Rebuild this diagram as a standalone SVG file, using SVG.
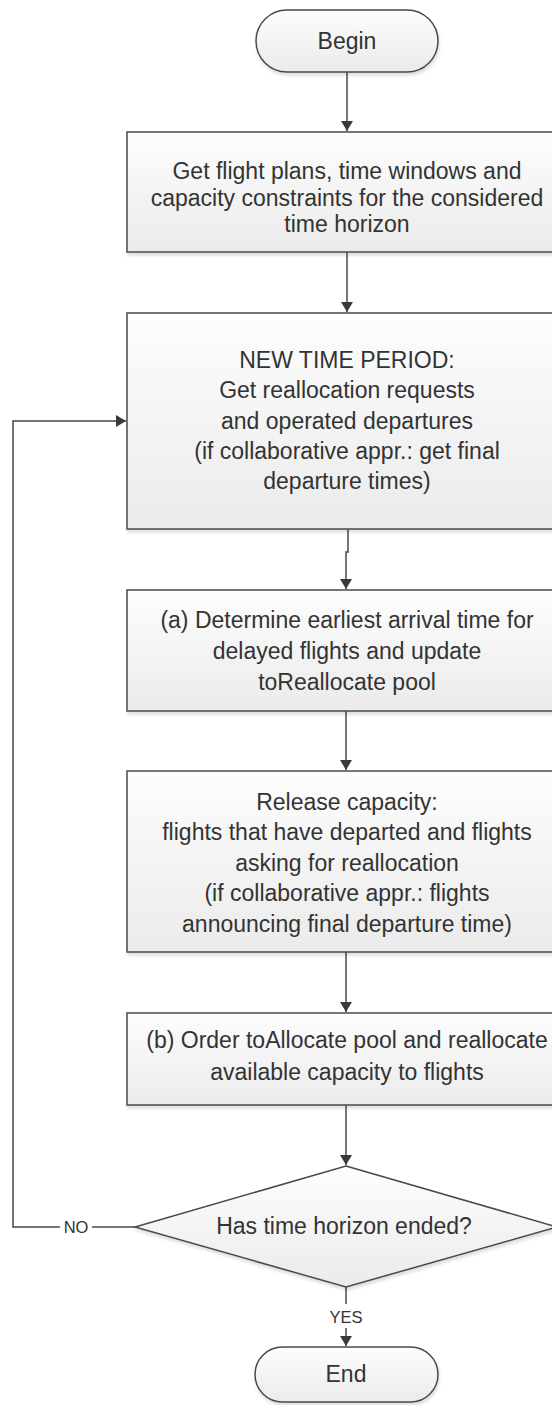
<svg xmlns="http://www.w3.org/2000/svg" width="552" height="1405" viewBox="0 0 552 1405">
  <style>
    .shape { fill: url(#fillGrad); stroke: #4a4a4a; stroke-width: 1.5; filter: url(#shadow); }
    .label { font-family: "Liberation Sans", Arial, sans-serif; font-size: 23px; fill: #333333; text-anchor: middle; }
    .small { font-family: "Liberation Sans", Arial, sans-serif; font-size: 16.5px; fill: #333333; text-anchor: middle; }
    .edge { fill: none; stroke: #4a4a4a; stroke-width: 1.5; }
  </style>
  <defs>
    <linearGradient id="fillGrad" x1="0" y1="0" x2="0" y2="1">
      <stop offset="0" stop-color="#fdfdfd"/>
      <stop offset="1" stop-color="#ebebeb"/>
    </linearGradient>
    <filter id="shadow" x="-5%" y="-5%" width="115%" height="125%">
      <feDropShadow dx="1" dy="3" stdDeviation="1.5" flood-color="#000000" flood-opacity="0.12"/>
    </filter>
    <marker id="arrow" viewBox="0 0 10 12" refX="10" refY="6" markerWidth="10" markerHeight="12" markerUnits="userSpaceOnUse" orient="auto">
      <path d="M0,0 L10,6 L0,12 z" fill="#3a3a3a"/>
    </marker>
  </defs>

  <rect width="552" height="1405" fill="#ffffff"/>

  <!-- connectors -->
  <g id="connectors">
    <line class="edge" x1="347" y1="72" x2="347" y2="131" marker-end="url(#arrow)"/>
    <line class="edge" x1="347" y1="252" x2="347" y2="312" marker-end="url(#arrow)"/>
    <polyline class="edge" points="348,529 348,552 346,552 346,589" marker-end="url(#arrow)"/>
    <line class="edge" x1="346" y1="711" x2="346" y2="770" marker-end="url(#arrow)"/>
    <line class="edge" x1="346" y1="952" x2="346" y2="1012" marker-end="url(#arrow)"/>
    <line class="edge" x1="346" y1="1105" x2="346" y2="1165" marker-end="url(#arrow)"/>
    <!-- YES branch -->
    <line class="edge" x1="346" y1="1287" x2="346" y2="1304"/>
    <line class="edge" x1="346" y1="1328" x2="346" y2="1346" marker-end="url(#arrow)"/>
    <text class="small" x="346" y="1323">YES</text>
    <!-- NO branch loops back to the new time period -->
    <polyline class="edge" points="135,1227 92,1227"/>
    <polyline class="edge" points="60,1227 13,1227 13,421 126,421" marker-end="url(#arrow)"/>
    <text class="small" x="76" y="1233">NO</text>
  </g>

  <g id="begin">
    <rect class="shape" x="256" y="10" width="182" height="62" rx="31" ry="31"/>
    <text class="label" x="347" y="49">Begin</text>
  </g>

  <g id="get-plans">
    <rect class="shape" x="127" y="132" width="440" height="120"/>
    <text class="label" x="347" y="179">Get flight plans, time windows and</text>
    <text class="label" x="347" y="206">capacity constraints for the considered</text>
    <text class="label" x="347" y="232">time horizon</text>
  </g>

  <g id="new-period">
    <rect class="shape" x="127" y="313" width="440" height="216"/>
    <text class="label" x="347" y="368">NEW TIME PERIOD:</text>
    <text class="label" x="347" y="398">Get reallocation requests</text>
    <text class="label" x="347" y="429">and operated departures</text>
    <text class="label" x="347" y="459">(if collaborative appr.: get final</text>
    <text class="label" x="347" y="489">departure times)</text>
  </g>

  <g id="determine-arrival">
    <rect class="shape" x="127" y="590" width="440" height="121"/>
    <text class="label" x="347" y="628">(a) Determine earliest arrival time for</text>
    <text class="label" x="347" y="659">delayed flights and update</text>
    <text class="label" x="347" y="690">toReallocate pool</text>
  </g>

  <g id="release-capacity">
    <rect class="shape" x="127" y="771" width="440" height="181"/>
    <text class="label" x="347" y="810">Release capacity:</text>
    <text class="label" x="347" y="840">flights that have departed and flights</text>
    <text class="label" x="347" y="871">asking for reallocation</text>
    <text class="label" x="347" y="901">(if collaborative appr.: flights</text>
    <text class="label" x="347" y="932">announcing final departure time)</text>
  </g>

  <g id="reallocate">
    <rect class="shape" x="127" y="1013" width="440" height="92"/>
    <text class="label" x="347" y="1048">(b) Order toAllocate pool and reallocate</text>
    <text class="label" x="347" y="1080">available capacity to flights</text>
  </g>

  <g id="horizon-check">
    <polygon class="shape" points="346,1166 557,1227 346,1287 135,1227"/>
    <text class="label" x="344" y="1234">Has time horizon ended?</text>
  </g>

  <g id="end">
    <rect class="shape" x="255" y="1347" width="183" height="55" rx="27.5" ry="27.5"/>
    <text class="label" x="346" y="1382">End</text>
  </g>
</svg>
